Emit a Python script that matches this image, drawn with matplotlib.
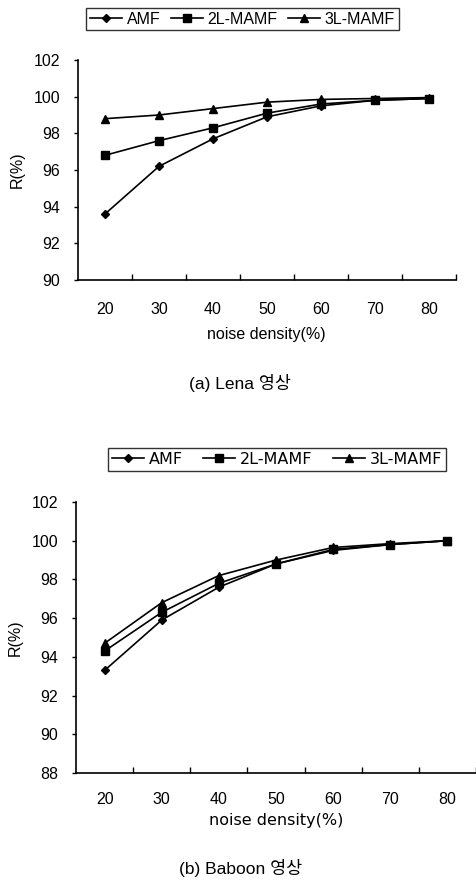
import matplotlib
matplotlib.use("Agg")
import matplotlib.pyplot as plt
from matplotlib.lines import Line2D

plt.rcParams['font.family'] = ['Liberation Sans', 'Noto Sans CJK KR', 'DejaVu Sans']

noise = [20, 30, 40, 50, 60, 70, 80]
series_names = ["AMF", "2L-MAMF", "3L-MAMF"]

lena_amf = [93.6, 96.2, 97.7, 98.9, 99.5, 99.8, 99.9]
lena_2l = [96.8, 97.6, 98.3, 99.1, 99.6, 99.8, 99.9]
lena_3l = [98.8, 99.0, 99.35, 99.7, 99.85, 99.9, 99.95]

baboon_amf = [93.3, 95.9, 97.6, 98.8, 99.5, 99.8, 100.0]
baboon_2l = [94.3, 96.3, 97.8, 98.8, 99.55, 99.8, 100.0]
baboon_3l = [94.7, 96.8, 98.2, 99.0, 99.65, 99.85, 100.0]

lena_yticks = [90, 92, 94, 96, 98, 100, 102]
baboon_yticks = [88, 90, 92, 94, 96, 98, 100, 102]

markers = ['D', 's', '^']
msizes = [4.5, 6, 6]

fig = plt.figure(figsize=(4.77, 8.91), dpi=100)

W, H = 477.0, 891.0
def fx(px): return px / W
def fy(py): return 1 - py / H


def panel(rect, ys, yticks, ylim, caption, cap_pos, xlab_pos, legend_rect,
          xpad, xlab_family, leg_family):
    ax = fig.add_axes(rect)
    for y, m, ms in zip(ys, markers, msizes):
        ax.plot(noise, y, color='black', lw=1.2, marker=m, ms=ms, mfc='black', mec='black')
    ax.set_xlim(15, 85)
    ax.set_ylim(*ylim)
    ax.set_yticks(yticks)
    ax.set_yticklabels([str(t) for t in yticks], fontsize=11.5)
    ax.set_xticks([25, 35, 45, 55, 65, 75, 85])
    ax.set_xticklabels([])
    ax.set_xticks(noise, minor=True)
    ax.set_xticklabels([str(n) for n in noise], minor=True, fontsize=11.5)
    ax.tick_params(axis='x', which='major', direction='in', length=4, width=1)
    ax.tick_params(axis='x', which='minor', length=0, pad=xpad)
    ax.tick_params(axis='y', direction='out', length=3, width=1, pad=10)
    for s in ['top', 'right']:
        ax.spines[s].set_visible(False)
    for s in ['left', 'bottom']:
        ax.spines[s].set_linewidth(1.2)
    ax.set_ylabel("R(%)", fontsize=11.5, labelpad=6)
    fig.text(xlab_pos[0], xlab_pos[1], "noise density(%)", ha='center', va='center',
             fontsize=11.5, family=xlab_family)
    fig.text(cap_pos[0], cap_pos[1], caption, ha='center', va='center', fontsize=12.5,
             family=['Liberation Sans Narrow', 'Liberation Sans', 'Noto Sans CJK KR'])
    handles = [Line2D([], [], color='black', lw=1.2, marker=m, ms=ms, mfc='black') for m, ms in zip(markers, msizes)]
    leg = fig.legend(handles, series_names, loc='center', bbox_to_anchor=legend_rect,
                     ncol=3, frameon=True, fancybox=False, handlelength=2.0,
                     handletextpad=0.3, columnspacing=0.5, borderpad=0.25, mode='expand',
                     borderaxespad=0, prop={'family': leg_family, 'size': 11.5})
    leg.get_frame().set_edgecolor('black')
    leg.get_frame().set_linewidth(1.0)
    return ax


# Top panel (Lena)
panel([fx(78), fy(280), fx(456) - fx(78), fy(60) - fy(280)],
      [lena_amf, lena_2l, lena_3l], lena_yticks, (90, 102),
      "(a) Lena 영상", (fx(240), fy(383)), (fx(266), fy(335)),
      (fx(86), fy(33), fx(399) - fx(86), fy(5) - fy(33)),
      16, ['Liberation Sans'], ['Liberation Sans'])

# Bottom panel (Baboon)
panel([fx(76), fy(773), fx(476) - fx(76), fy(502) - fy(773)],
      [baboon_amf, baboon_2l, baboon_3l], baboon_yticks, (88, 102),
      "(b) Baboon 영상", (fx(241), fy(868)), (fx(276), fy(820)),
      (fx(108), fy(472), fx(446) - fx(108), fy(447) - fy(472)),
      14, ['DejaVu Sans'], ['DejaVu Sans'])

fig.savefig("out.png", dpi=100)
